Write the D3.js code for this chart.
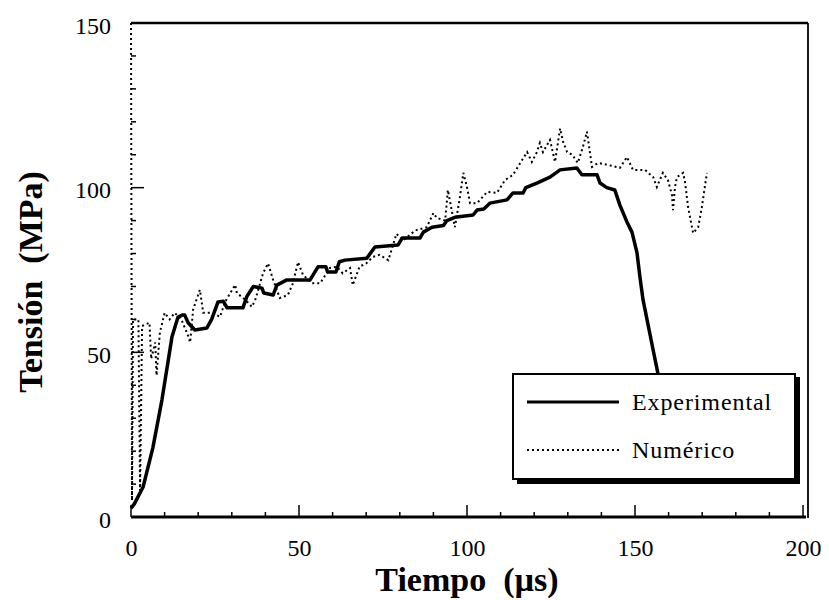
<!DOCTYPE html>
<html><head><meta charset="utf-8">
<script src="https://cdn.jsdelivr.net/npm/d3@7"></script>
<style>body{margin:0;background:#fff}svg{display:block}svg text{font-family:"Liberation Serif","Times New Roman",serif}</style>
</head><body>
<script>
// ---- data ----
const expT = [0,1,3.6,6.5,9.2,12.2,14,15.2,16,17,19,22.6,24,25.9,27.5,28.6,33.3,34.5,36.4,39,39.5,42.3,43.4,46.4,53.3,55.7,58,58.5,61,62,63.7,70.2,72.6,79.5,80.7,86,87,89.6,93,94,96.4,101.8,103,105,106.8,111.9,113.7,116.7,117.5,120.8,124.7,127.7,132.7,134.2,138.7,139.6,141.6,144,145.5,147.6,149.1,150.6,151.5,152.4,155.4,156.8,159];
const expV = [2.7,4,9.1,21,35.5,54.7,60.7,61.3,61.3,59,56.8,57.4,60,65.3,65.5,63.5,63.5,67,70,69.5,68,67.4,70.4,72,72,76,76,74.4,74.4,77.5,78,78.6,82,82.6,84.7,84.7,86.5,88,88.5,90,91,91.7,93.2,93.5,95.3,96.3,98.4,98.4,100,101.4,103.2,105.4,106,103.9,103.9,101.4,100,99.3,94.7,89.6,86.5,80.2,72.6,65.9,50.7,43.7,30];
const numT = [0,0.3,0.6,2.2,2.7,3.3,5.5,6,7.2,7.6,8.6,10,11.5,13,15,17,17.6,18.5,20.5,21.5,24,26.5,28,31,31.5,34,36,37,39.3,40.8,42.3,44.3,46.7,48.2,49.7,51.2,53.9,56.3,59.2,61.3,63,65.2,66,68,70,72,74,76.6,79,81,84.6,88,90,91,93.5,94.3,96.4,97.9,98.9,100,100.9,103,106,108.9,110.4,111.3,113.7,116.4,117.9,119.3,120.8,121.7,122.6,124.7,126.2,127.7,128.6,129.8,131.3,133,134.5,135.7,137.2,139,141.6,145.5,147.6,149.4,153,155.4,156.5,158.3,159.8,161,161.3,161.9,162.5,164.3,164.9,165.8,167.3,168.8,169.9,171.4];
const numV = [150,5,60,60,8,58,59,48,53,43,56,62,60,62,60,55,53,63,69,62,62,60.8,65.3,70.5,68,66,63.8,66,74,77,72,66.5,67.4,71,77.4,73.5,71,71,75.6,76,74,75.6,70.4,76,77,79,79.6,78,86,84,87,88,92.3,90.8,90,99.3,88,97.2,104.5,100.2,95.3,95.3,98.7,98.4,100.8,102.3,103.9,108.4,110.8,107.8,110.8,113.6,110.8,114.5,107.8,118,113.9,110.8,110,107.5,112.4,117,106.3,107.5,107,106,109.3,105.4,105.4,103.2,100.2,104.5,102.3,97.8,93.2,100.2,103.2,104.5,101.7,94.1,86.2,88,94.1,104.5];
const xTicks = [0,50,100,150,200];
const yTicks = [0,50,100,150];
const seriesNames = ["Experimental","Numérico"];

// ---- chart ----
const W=829,H=600;
const svg=d3.select("body").append("svg").attr("width",W).attr("height",H);
const x=d3.scaleLinear().domain([0,200]).range([131,803]);
const y=d3.scaleLinear().domain([0,150]).range([517,23]);

// frame (top, right)
svg.append("line").attr("x1",x(0)).attr("x2",808).attr("y1",y(150)).attr("y2",y(150)).attr("stroke","#000").attr("stroke-width",2.5);
svg.append("line").attr("x1",808).attr("x2",808).attr("y1",y(150)).attr("y2",y(0)+1).attr("stroke","#000").attr("stroke-width",1.8);

// x axis
const xAxis=d3.axisBottom(x).tickValues(xTicks).tickSize(0).tickPadding(22).tickFormat(d3.format("d"));
const gx=svg.append("g").attr("transform",`translate(0,${y(0)})`).call(xAxis);
gx.attr("font-family",null);
gx.select(".domain").attr("stroke-width",3).attr("d",`M${x(0)},0H806`);
gx.selectAll("text").attr("font-size",24).attr("fill","#000");
svg.append("g").selectAll("line").data(d3.range(0,201,10)).join("line")
  .attr("x1",d=>x(d)).attr("x2",d=>x(d)).attr("y1",y(0)).attr("y2",d=>y(0)-(d%50===0?12:5))
  .attr("stroke","#000").attr("stroke-width",1.5);

// y axis
const yAxis=d3.axisLeft(y).tickValues(yTicks).tickSize(0).tickPadding(20).tickFormat(d3.format("d"));
const gy=svg.append("g").attr("transform",`translate(${x(0)},0)`).call(yAxis);
gy.attr("font-family",null);
gy.select(".domain").remove();
gy.selectAll("text").attr("font-size",24).attr("fill","#000").attr("dy","0.42em");
svg.append("g").selectAll("line").data(d3.range(0,151,10)).join("line")
  .attr("x1",x(0)).attr("x2",d=>x(0)+(d%50===0?13:5)).attr("y1",d=>y(d)).attr("y2",d=>y(d))
  .attr("stroke","#000").attr("stroke-width",1.5);

// series
const line=d3.line().x(d=>x(d[0])).y(d=>y(d[1]));
svg.append("path").datum(numT.map((t,i)=>[t,numV[i]])).attr("d",line)
  .attr("fill","none").attr("stroke","#000").attr("stroke-width",2).attr("stroke-dasharray","2,3");
svg.append("path").datum(expT.map((t,i)=>[t,expV[i]])).attr("d",line)
  .attr("fill","none").attr("stroke","#000").attr("stroke-width",3.5).attr("stroke-linejoin","round");

// legend
const lg=svg.append("g");
lg.append("rect").attr("x",517).attr("y",377).attr("width",283).attr("height",107).attr("fill","#000");
lg.append("rect").attr("x",513).attr("y",374).attr("width",282).attr("height",105).attr("fill","#fff").attr("stroke","#000").attr("stroke-width",2);
lg.append("line").attr("x1",527).attr("x2",619).attr("y1",402).attr("y2",402).attr("stroke","#000").attr("stroke-width",3);
lg.append("line").attr("x1",527).attr("x2",619).attr("y1",450).attr("y2",450).attr("stroke","#000").attr("stroke-width",1.8).attr("stroke-dasharray","2,3");
lg.selectAll("text").data(seriesNames).join("text")
  .attr("x",632).attr("y",(d,i)=>402+i*48+8).text(d=>d)
  .attr("font-size",24).attr("letter-spacing",0.9).attr("fill","#000");

// axis titles
svg.append("text").attr("x",467).attr("y",591).attr("text-anchor","middle")
  .attr("font-size",34).attr("font-weight","bold").attr("xml:space","preserve")
  .text("Tiempo  (µs)");
svg.append("text").attr("transform","translate(42,282) rotate(-90)").attr("text-anchor","middle")
  .attr("font-size",34).attr("font-weight","bold").attr("xml:space","preserve")
  .text("Tensión  (MPa)");
</script>
</body></html>
